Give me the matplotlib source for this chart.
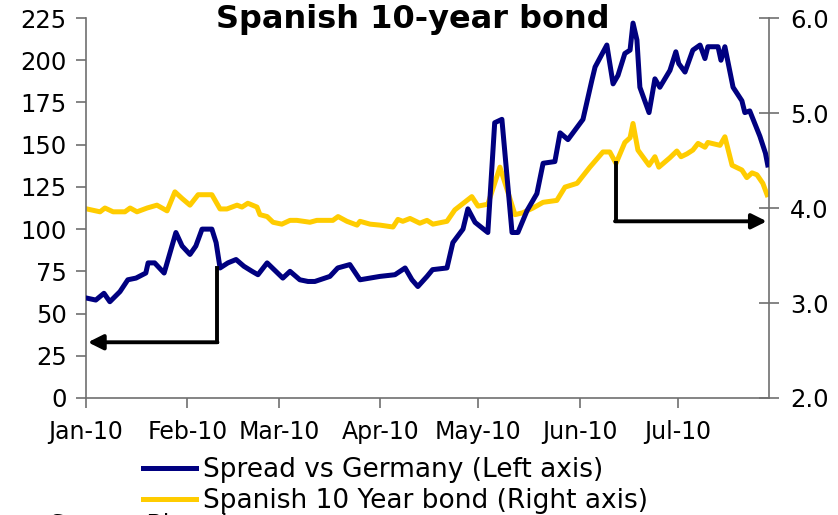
import datetime as dt
import matplotlib
matplotlib.use("Agg")
import matplotlib.pyplot as plt
import matplotlib.dates as mdates

# days since 1 Jan 2010
spread_day = [0.6, 3, 5.5, 7.3, 10.4, 12.8, 15.3, 18.3, 19, 21, 23.9, 27.5, 29.4, 31.8,
              33.6, 35.5, 38.5, 39.8, 41, 43.4, 45.9, 48.3, 50.8, 52.6, 55.4, 60.2, 62.4,
              65.4, 67.9, 70, 74.6, 77, 80.7, 83.8, 89.9, 94.5, 97.6, 99.7, 101.5, 104.3,
              106, 110.4, 112.2, 115.3, 116.8, 119, 122.9, 125, 127.2, 130.3, 132.1, 134.9,
              137.9, 139.8, 143.4, 145, 147.4, 152, 154.7, 155.7, 159.3, 161.2, 162.7,
              164.8, 166.4, 167.3, 168.5, 169.4, 172.2, 174, 175.5, 178.6, 180.4, 181.3,
              183.2, 185.6, 187.8, 189.3, 190.2, 193.3, 194.2, 195.4, 197.9, 200.6, 201.5,
              203, 206.1, 207.8, 208.5]
spread_bp = [59, 58, 62, 57, 63, 70, 71, 74, 80, 80, 74, 98, 90, 85,
             90, 100, 100, 92, 77, 80, 82, 78, 75, 73, 80, 71, 75,
             70, 69, 69, 72, 77, 79, 70, 72, 73, 77, 70, 66, 72,
             76, 77, 92, 100, 112, 104, 98, 163, 165, 98, 98, 111,
             121, 139, 140, 157, 153, 165, 188, 196, 209, 186, 191,
             204, 206, 222, 212, 184, 169, 189, 184, 194, 205, 198,
             193, 206, 209, 201, 208, 208, 200, 208, 184, 176, 169,
             170, 155, 145, 138]

yield_day = [0.3, 4.3, 5.8, 8.3, 11.9, 13.5, 15.6, 18.7, 21.7, 24.8, 27.2, 29.4, 31.8,
             34.3, 38.5, 41, 43.1, 46.2, 47.7, 49.5, 52.3, 53.2, 55.4, 57.2, 59.9, 62.4,
             64.5, 68.5, 70.6, 75.5, 77.1, 79.8, 82.9, 83.8, 86.9, 89.9, 93.9, 95.4, 96.9,
             99.1, 102.1, 104.3, 106.1, 110.4, 112.8, 118, 119.9, 122.9, 126.6, 129.1,
             131.2, 133.6, 136.7, 139.8, 144, 146.5, 150.2, 154.1, 158.1, 160.2, 162.1,
             164.8, 166.4, 167.3, 168.8, 172.2, 174, 175.2, 178.6, 180.7, 182, 183.8,
             185.6, 187.2, 189.3, 190.2, 193.9, 195.4, 197.6, 200.6, 202.1, 203.7, 205.2,
             207, 208.3]
yield_pct = [3.99, 3.96, 4.00, 3.96, 3.96, 4.00, 3.96, 4.00, 4.03, 3.97, 4.17, 4.10, 4.03,
             4.14, 4.14, 3.99, 3.99, 4.03, 4.01, 4.05, 4.01, 3.93, 3.91, 3.85, 3.83, 3.87,
             3.87, 3.85, 3.87, 3.87, 3.91, 3.86, 3.82, 3.86, 3.83, 3.82, 3.80, 3.88, 3.86,
             3.89, 3.84, 3.87, 3.83, 3.86, 3.98, 4.12, 4.02, 4.04, 4.43, 4.16,
             3.93, 3.95, 4.00, 4.06, 4.08, 4.22, 4.26, 4.43, 4.59, 4.59, 4.47,
             4.69, 4.74, 4.89, 4.61, 4.45, 4.54, 4.43, 4.53, 4.60, 4.54, 4.57,
             4.61, 4.68, 4.64, 4.69, 4.66, 4.75, 4.45, 4.40, 4.32, 4.37, 4.35,
             4.26, 4.14]

month_labels = ["Jan-10", "Feb-10", "Mar-10", "Apr-10", "May-10", "Jun-10", "Jul-10"]
left_ticks = [0, 25, 50, 75, 100, 125, 150, 175, 200, 225]
right_ticks = [2.0, 3.0, 4.0, 5.0, 6.0]

NAVY = "#000080"
GOLD = "#FFCC00"
GREY = "#707070"

base = mdates.date2num(dt.datetime(2010, 1, 1))
def d(days):
    return [base + x for x in days]

plt.rcParams["font.family"] = "DejaVu Sans"

fig = plt.figure(figsize=(8.38, 5.15), dpi=100)
ax = fig.add_axes([0.1026, 0.2272, 0.8151, 0.7378])
ax2 = ax.twinx()

l1, = ax.plot(d(spread_day), spread_bp, color=NAVY, lw=3.6, solid_joinstyle="round",
              label="Spread vs Germany (Left axis)", zorder=3)
l2, = ax2.plot(d(yield_day), yield_pct, color=GOLD, lw=3.6, solid_joinstyle="round",
               label="Spanish 10 Year bond (Right axis)", zorder=2)
ax.set_zorder(ax2.get_zorder() + 1)
ax.patch.set_visible(False)

ax.set_xlim(base, base + 208.9)
ax.set_ylim(0, 225)
ax2.set_ylim(2.0, 6.0)

ax.set_yticks(left_ticks)
ax.set_yticklabels([str(t) for t in left_ticks])
ax2.set_yticks(right_ticks)
ax2.set_yticklabels(["%.1f" % t for t in right_ticks])

month_starts = [mdates.date2num(dt.datetime(2010, m, 1)) for m in range(1, 8)]
ax.set_xticks(month_starts)
ax.set_xticklabels(month_labels)

for a in (ax, ax2):
    a.spines["top"].set_visible(False)
    for s in ("left", "right", "bottom"):
        a.spines[s].set_color(GREY)
        a.spines[s].set_linewidth(1.2)
ax.spines["right"].set_visible(False)
ax2.spines["left"].set_visible(False)
ax2.spines["bottom"].set_visible(False)

ax.tick_params(axis="y", direction="out", length=7, width=1.2, color=GREY,
               labelsize=17.5, pad=7)
ax.tick_params(axis="x", direction="out", length=7, width=1.2, color=GREY,
               labelsize=17, pad=9)
ax2.tick_params(axis="y", direction="inout", length=14, width=1.2, color=GREY,
                labelsize=17.5, pad=8)

# arrows pointing to the matching axis
ax.plot(d([40, 40]), [77, 33], color="black", lw=2.8, zorder=4)
ax.annotate("", xy=(base + 0.6, 33), xytext=(base + 40.2, 33),
            arrowprops=dict(arrowstyle="-|>,head_length=0.9,head_width=0.45",
                            color="black", lw=2.8, shrinkA=0, shrinkB=0), zorder=4)
ax2.plot(d([162.1, 162.1]), [4.47, 3.86], color="black", lw=2.8, zorder=4)
ax2.annotate("", xy=(base + 208.2, 3.86), xytext=(base + 161.8, 3.86),
             arrowprops=dict(arrowstyle="-|>,head_length=0.9,head_width=0.45",
                             color="black", lw=2.8, shrinkA=0, shrinkB=0), zorder=4)

fig.text(0.493, 0.962, "Spanish 10-year bond", ha="center", va="center",
         fontsize=23, fontweight="bold")

fig.legend(handles=[l1, l2], loc="upper left", bbox_to_anchor=(0.171, 0.112),
           frameon=False, fontsize=19, handlelength=2.0, handletextpad=0.25,
           labelspacing=0.17, borderaxespad=0, borderpad=0)

fig.text(0.06, 0.004, "Source: Bloomberg", ha="left", va="top", fontsize=17)

fig.savefig("out.png", dpi=100)
